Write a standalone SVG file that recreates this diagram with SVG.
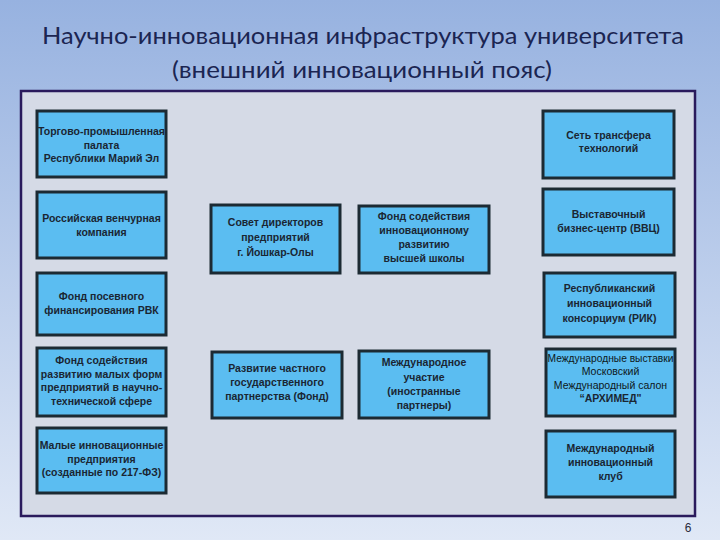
<svg xmlns="http://www.w3.org/2000/svg" width="720" height="540" viewBox="0 0 720 540">
<defs>
<linearGradient id="bg" x1="0" y1="0" x2="0" y2="1">
<stop offset="0" stop-color="#97b2e0"/>
<stop offset="1" stop-color="#e0e8f6"/>
</linearGradient>
<style>
.box{fill:#5bbdf1;stroke:#1c2a33;stroke-width:3}
.t{font-family:"Liberation Sans",Arial,sans-serif;font-weight:bold;font-size:10.5px;fill:#1a2633;text-anchor:middle}
.n{font-weight:normal;fill:#0e1820}
.title{font-family:Lato,"Open Sans",sans-serif;font-size:23px;fill:#1b2552;text-anchor:middle}
</style>
</defs>
<rect x="0" y="0" width="720" height="540" fill="url(#bg)"/>
<g id="title">
<text class="title" x="363" y="44" textLength="642" lengthAdjust="spacingAndGlyphs">Научно-инновационная инфраструктура университета</text>
<text class="title" x="362" y="78" textLength="380" lengthAdjust="spacingAndGlyphs">(внешний инновационный пояс)</text>
</g>
<g id="frame">
<rect x="21" y="91" width="674" height="425" fill="#d5dae6" stroke="#2a1a5c" stroke-width="2.5"/>
</g>
<g id="connectors"></g>
<g id="n1"><rect class="box" x="37" y="111" width="129" height="66"/>
<text class="t" x="101.5" y="135">Торгово-промышленная</text><text class="t" x="101.5" y="148.5">палата</text><text class="t" x="101.5" y="162">Республики Марий Эл</text></g>
<g id="n2"><rect class="box" x="37" y="192" width="129" height="66"/>
<text class="t" x="101.5" y="222">Российская венчурная</text><text class="t" x="101.5" y="235.5">компания</text></g>
<g id="n3"><rect class="box" x="37" y="273" width="129" height="62"/>
<text class="t" x="101.5" y="300">Фонд посевного</text><text class="t" x="101.5" y="313.5">финансирования РВК</text></g>
<g id="n4"><rect class="box" x="37" y="348" width="129" height="68"/>
<text class="t" x="101.5" y="364">Фонд содействия</text><text class="t" x="101.5" y="377.5">развитию малых форм</text><text class="t" x="101.5" y="391">предприятий в научно-</text><text class="t" x="101.5" y="404.5">технической сфере</text></g>
<g id="n5"><rect class="box" x="37" y="428" width="129" height="65"/>
<text class="t" x="101.5" y="449">Малые инновационные</text><text class="t" x="101.5" y="462.5">предприятия</text><text class="t" x="101.5" y="476">(созданные по 217-ФЗ)</text></g>
<g id="m1"><rect class="box" x="211" y="205" width="129" height="68"/>
<text class="t" x="275.5" y="226">Совет директоров</text><text class="t" x="275.5" y="241">предприятий</text><text class="t" x="275.5" y="256">г. Йошкар-Олы</text></g>
<g id="m2"><rect class="box" x="359" y="206" width="130" height="67"/>
<text class="t" x="424" y="220">Фонд содействия</text><text class="t" x="424" y="234">инновационному</text><text class="t" x="424" y="248">развитию</text><text class="t" x="424" y="262">высшей школы</text></g>
<g id="m3"><rect class="box" x="212" y="352" width="130" height="66"/>
<text class="t" x="277" y="372">Развитие частного</text><text class="t" x="277" y="386">государственного</text><text class="t" x="277" y="400">партнерства (Фонд)</text></g>
<g id="m4"><rect class="box" x="359" y="351" width="130" height="67"/>
<text class="t" x="424" y="366">Международное</text><text class="t" x="424" y="381">участие</text><text class="t" x="424" y="395">(иностранные</text><text class="t" x="424" y="409">партнеры)</text></g>
<g id="r1"><rect class="box" x="543" y="111" width="131" height="67"/>
<text class="t" x="608.5" y="139">Сеть трансфера</text><text class="t" x="608.5" y="152">технологий</text></g>
<g id="r2"><rect class="box" x="543" y="189" width="131" height="66"/>
<text class="t" x="608.5" y="218">Выставочный</text><text class="t" x="608.5" y="232">бизнес-центр (ВВЦ)</text></g>
<g id="r3"><rect class="box" x="544" y="273" width="131" height="64"/>
<text class="t" x="609.5" y="292">Республиканский</text><text class="t" x="609.5" y="307">инновационный</text><text class="t" x="609.5" y="322">консорциум (РИК)</text></g>
<g id="r4"><rect class="box" x="546" y="349" width="129" height="67"/>
<text class="t n" x="610.5" y="362" font-size="10" textLength="126" lengthAdjust="spacingAndGlyphs">Международные выставки</text><text class="t n" x="610.5" y="375" font-size="10">Московский</text><text class="t n" x="610.5" y="389" font-size="10">Международный салон</text><text class="t" x="610.5" y="402" font-size="10">“АРХИМЕД"</text></g>
<g id="r5"><rect class="box" x="546" y="431" width="129" height="66"/>
<text class="t" x="610.5" y="452">Международный</text><text class="t" x="610.5" y="466">инновационный</text><text class="t" x="610.5" y="480">клуб</text></g>
<text x="688" y="532" font-family="Liberation Sans,Arial,sans-serif" font-size="12" fill="#2a2a3a" text-anchor="middle">6</text>
</svg>
